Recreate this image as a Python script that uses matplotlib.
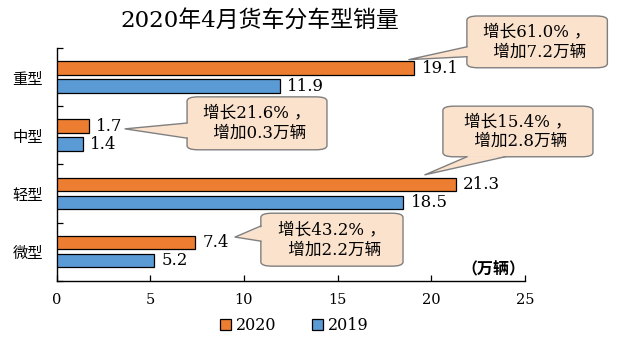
import matplotlib
matplotlib.use("Agg")
import matplotlib.pyplot as plt
from matplotlib.patches import FancyBboxPatch, Polygon, Patch
import numpy as np

plt.rcParams['font.family'] = ['DejaVu Serif', 'Noto Sans CJK SC']

categories = ['重型', '中型', '轻型', '微型']
series_names = ['2020', '2019']
values_2020 = [19.1, 1.7, 21.3, 7.4]
values_2019 = [11.9, 1.4, 18.5, 5.2]
callout_texts = ['增长61.0% ，\n 增加7.2万辆', '增长21.6% ，\n 增加0.3万辆',
                 '增长15.4% ，\n 增加2.8万辆', '增长43.2% ，\n 增加2.2万辆']
x_ticks = [0, 5, 10, 15, 20, 25]
title = '2020年4月货车分车型销量'
unit_label = '（万辆）'

c2020 = '#ED7D31'
c2019 = '#5B9BD5'
box_fc = '#FBE2CD'
box_ec = '#7F7F7F'

fig = plt.figure(figsize=(6.34, 3.49), dpi=100)
ax = fig.add_axes([0.0894, 0.1957, 0.7386, 0.6668])

y = np.arange(len(categories))
h = 0.235
off = 0.155
ax.barh(y - off, values_2020, height=h, color=c2020, edgecolor='black', linewidth=0.9, label=series_names[0], zorder=3)
ax.barh(y + off, values_2019, height=h, color=c2019, edgecolor='black', linewidth=0.9, label=series_names[1], zorder=3)

for i in range(len(categories)):
    ax.text(values_2020[i] + 0.4, y[i] - off, f'{values_2020[i]:.1f}', va='center', ha='left', fontsize=12,
            family=['DejaVu Serif'], zorder=4)
    ax.text(values_2019[i] + 0.4, y[i] + off, f'{values_2019[i]:.1f}', va='center', ha='left', fontsize=12,
            family=['DejaVu Serif'], zorder=4)

ax.set_xlim(0, 25)
ax.set_ylim(3.5, -0.5)
ax.set_xticks(x_ticks)
ax.set_xticklabels([str(t) for t in x_ticks], fontsize=10.5, family=['DejaVu Serif'])
ax.set_yticks(y)
ax.set_yticklabels(categories, fontsize=11, family=['Noto Sans CJK SC'])
ax.set_yticks(np.arange(-0.5, 4.0, 1.0), minor=True)
ax.tick_params(axis='y', which='major', length=0, pad=10)
ax.tick_params(axis='y', which='minor', direction='in', length=4, width=0.9)
ax.tick_params(axis='x', which='major', direction='in', length=4, width=0.9, pad=9)
for s in ['top', 'right']:
    ax.spines[s].set_visible(False)
for s in ['left', 'bottom']:
    ax.spines[s].set_linewidth(1.0)

ax.text(1.0, 0.015, unit_label, transform=ax.transAxes, ha='right', va='bottom', fontsize=11.5,
        family=['Noto Sans CJK SC'], fontweight='bold')

# callouts: box (x0, x1, y0, y1), tip (x, y), base two points
callouts = [
    dict(box=(21.9, 29.4, -1.05, -0.16), tip=(18.8, -0.30), base=[(21.9, -0.52), (21.9, -0.35)]),
    dict(box=(6.96, 14.43, 0.34, 1.25), tip=(3.65, 0.89), base=[(6.96, 0.79), (6.96, 1.05)]),
    dict(box=(20.62, 28.63, 0.50, 1.37), tip=(19.66, 1.68), base=[(21.9, 1.37), (23.94, 1.37)]),
    dict(box=(10.9, 18.49, 2.34, 3.25), tip=(9.52, 2.75), base=[(10.9, 2.56), (10.9, 2.82)]),
]
for c, txt in zip(callouts, callout_texts):
    x0, x1, y0, y1 = c['box']
    bb = FancyBboxPatch((x0, y0), x1 - x0, y1 - y0, boxstyle='round,pad=0,rounding_size=0.6',
                        mutation_aspect=0.12, fc=box_fc, ec=box_ec, lw=1.0, clip_on=False, zorder=5)
    ax.add_patch(bb)
    tx, ty = c['tip']
    (bx0, by0), (bx1, by1) = c['base']
    cx, cy = (x0 + x1) / 2, (y0 + y1) / 2
    inner = [(bx0 + (cx - bx0) * 0.03, by0 + (cy - by0) * 0.03), (bx1 + (cx - bx1) * 0.03, by1 + (cy - by1) * 0.03)]
    poly = Polygon([(tx, ty), inner[0], inner[1]], closed=True, fc=box_fc, ec='none', clip_on=False, zorder=6)
    ax.add_patch(poly)
    ax.plot([bx0, tx, bx1], [by0, ty, by1], color=box_ec, lw=1.0, clip_on=False, zorder=6)
    ax.text(cx, cy, txt, ha='center', va='center', fontsize=12, linespacing=1.25,
            family=['DejaVu Serif', 'Noto Sans CJK SC'], zorder=7)

fig.text(0.41, 0.937, title, ha='center', va='center', fontsize=16.5,
         family=['DejaVu Serif', 'Noto Sans CJK SC'])

handles = [Patch(facecolor=c2020, edgecolor='black', linewidth=0.9, label=series_names[0]),
           Patch(facecolor=c2019, edgecolor='black', linewidth=0.9, label=series_names[1])]
fig.legend(handles=handles, loc='center', bbox_to_anchor=(0.464, 0.068), ncol=2, frameon=False,
           handlelength=0.7, handleheight=0.7, handletextpad=0.3, columnspacing=2.2,
           prop={'family': 'DejaVu Serif', 'size': 11.5})

fig.savefig('out.png', dpi=100)
